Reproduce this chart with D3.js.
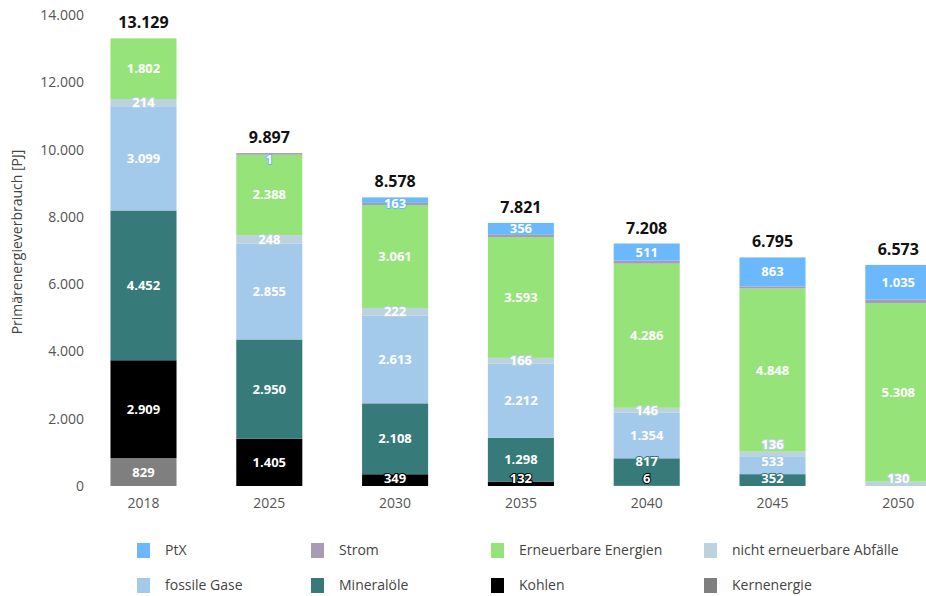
<!DOCTYPE html>
<html>
<head>
<meta charset="utf-8">
<script src="https://cdn.jsdelivr.net/npm/d3@7"></script>
<style>
    body { margin: 0; background: #fff; }
    svg { display: block; font-family: "Open Sans", sans-serif; }
</style>
</head>
<body>
<svg class="chart" width="926" height="596"></svg>
<script>
// data (PJ), bottom to top of each stack
const years = ["2018", "2025", "2030", "2035", "2040", "2045", "2050"];
const series = ["Kernenergie", "Kohlen", "Mineralöle", "fossile Gase", "nicht erneuerbare Abfälle", "Erneuerbare Energien", "Strom", "PtX"];
const kernenergie = [829, 0, 0, 0, 0, 0, 0];
const kohlen = [2909, 1405, 349, 132, 6, 0, 0];
const mineraloele = [4452, 2950, 2108, 1298, 817, 352, 0];
const fossileGase = [3099, 2855, 2613, 2212, 1354, 533, 0];
const abfaelle = [214, 248, 222, 166, 146, 136, 130];
const erneuerbare = [1802, 2388, 3061, 3593, 4286, 4848, 5308];
const strom = [-176, 50, 62, 64, 88, 63, 100];
const ptx = [0, 1, 163, 356, 511, 863, 1035];
const totals = [13129, 9897, 8578, 7821, 7208, 6795, 6573];
const yTicks = [0, 2000, 4000, 6000, 8000, 10000, 12000, 14000];

const colors = {
    "PtX": "#6bb8fc",
    "Strom": "#a99bb5",
    "Erneuerbare Energien": "#96e479",
    "nicht erneuerbare Abfälle": "#bdd2df",
    "fossile Gase": "#a3caea",
    "Mineralöle": "#367a7a",
    "Kohlen": "#000000",
    "Kernenergie": "#7f7f7f"
};
const legendOrder = ["PtX", "Strom", "Erneuerbare Energien", "nicht erneuerbare Abfälle",
    "fossile Gase", "Mineralöle", "Kohlen", "Kernenergie"];

const columns = [kernenergie, kohlen, mineraloele, fossileGase, abfaelle, erneuerbare, strom, ptx];
const table = years.map((year, i) => {
    const row = { year: year, total: totals[i] };
    series.forEach((s, k) => { row[s] = columns[k][i]; });
    return row;
});

const de = d3.formatLocale({ decimal: ",", thousands: ".", grouping: [3], currency: ["", " €"] });
const fmt = de.format(",.0f");

const svg = d3.select(".chart");

const x = d3.scaleBand()
    .domain(years)
    .range([80.6, 961.2])
    .paddingInner(0.475)
    .paddingOuter(0.2375);

const y = d3.scaleLinear()
    .domain([0, 14000])
    .range([486, 15]);

const stack = d3.stack()
    .keys(series)
    .offset(d3.stackOffsetDiverging);
const layers = stack(table);

// y axis tick labels (no axis line)
const yAxis = svg.append("g")
    .attr("transform", "translate(84,0)")
    .call(d3.axisLeft(y).tickValues(yTicks).tickFormat(fmt).tickSize(0).tickPadding(0));
yAxis.select(".domain").remove();
yAxis.selectAll("text")
    .attr("fill", "#555")
    .attr("font-size", 14)
    .style("font-family", "Open Sans, sans-serif");

svg.append("text")
    .attr("transform", "translate(22,242) rotate(-90)")
    .attr("text-anchor", "middle")
    .attr("fill", "#444")
    .attr("font-size", 14)
    .text("Primärenergieverbrauch [PJ]");

// x axis labels
const xAxis = svg.append("g")
    .attr("transform", "translate(0,498)")
    .call(d3.axisBottom(x).tickSize(0).tickPadding(0));
xAxis.select(".domain").remove();
xAxis.selectAll("text")
    .attr("fill", "#555")
    .attr("font-size", 14)
    .attr("dy", "0.71em")
    .style("font-family", "Open Sans, sans-serif");

// bars
const barsG = svg.append("g");
layers.forEach(layer => {
    barsG.append("g")
        .attr("fill", colors[layer.key])
        .selectAll("rect")
        .data(layer.filter(d => d[1] - d[0] > 0 && d[0] >= 0))
        .join("rect")
        .attr("x", d => x(d.data.year))
        .attr("width", x.bandwidth())
        .attr("y", d => y(d[1]))
        .attr("height", d => y(d[0]) - y(d[1]));
});

const topOf = i => d3.max(layers, l => l[i][1]);

// segment labels, pushed up when they collide, kept inside the bar
const labelsG = svg.append("g");
years.forEach((year, i) => {
    const barTop = y(topOf(i));
    let lastY = 478 + 17;
    layers.forEach(layer => {
        if (layer.key === "Strom") return;
        const d = layer[i];
        const v = d[1] - d[0];
        if (v <= 0 || d[0] < 0) return;
        let cy = y((d[0] + d[1]) / 2);
        cy = Math.min(cy, 478, lastY - 17);
        cy = Math.max(cy, barTop + 6);
        lastY = cy;
        labelsG.append("text")
            .attr("x", x(year) + x.bandwidth() / 2)
            .attr("y", cy)
            .attr("dy", "0.35em")
            .attr("text-anchor", "middle")
            .attr("font-size", 13)
            .attr("font-weight", "bold")
            .attr("fill", "#fff")
            .attr("stroke", colors[layer.key])
            .attr("stroke-width", 2)
            .attr("paint-order", "stroke")
            .text(fmt(v));
    });
});

// totals above bars
svg.append("g")
    .selectAll("text")
    .data(table)
    .join("text")
    .attr("x", d => x(d.year) + x.bandwidth() / 2)
    .attr("y", (d, i) => y(topOf(i)) - 10)
    .attr("text-anchor", "middle")
    .attr("font-size", 16)
    .attr("font-weight", "bold")
    .attr("fill", "#111")
    .text(d => fmt(d.total));

// legend
const legendX = [137, 311, 491, 704];
const legendY = [550, 585];
const legend = svg.append("g")
    .selectAll("g")
    .data(legendOrder)
    .join("g")
    .attr("transform", (d, i) => `translate(${legendX[i % 4]},${legendY[Math.floor(i / 4)]})`);
legend.append("rect")
    .attr("x", 0)
    .attr("y", -7)
    .attr("width", 13)
    .attr("height", 15)
    .attr("fill", d => colors[d]);
legend.append("text")
    .attr("x", 28)
    .attr("y", 0)
    .attr("dy", "0.35em")
    .attr("font-size", 14)
    .attr("fill", "#444")
    .text(d => d);
</script>
</body>
</html>
